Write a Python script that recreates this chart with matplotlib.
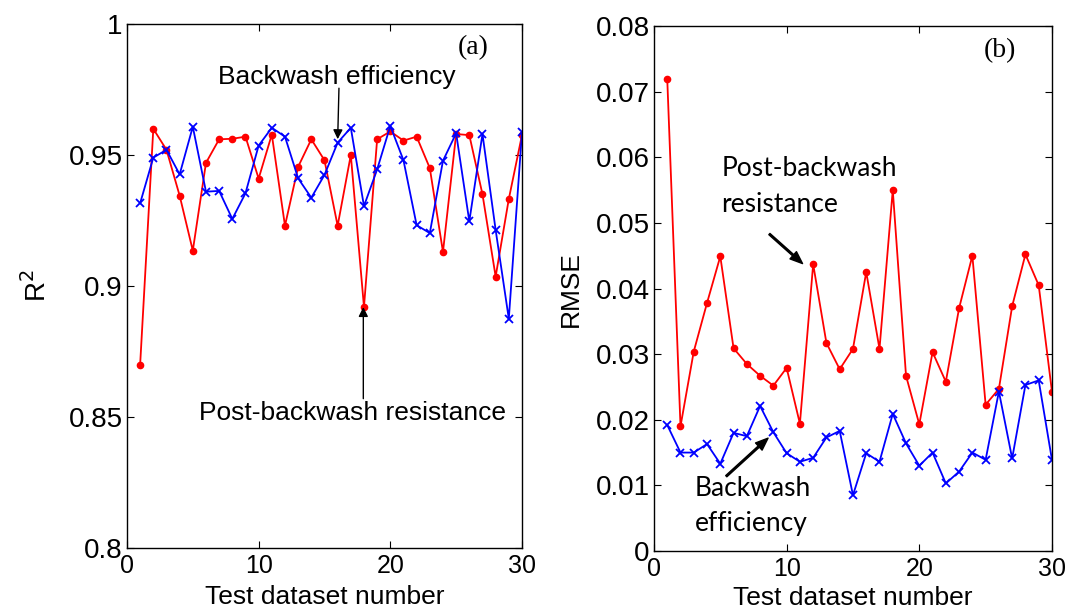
import numpy as np
import matplotlib.pyplot as plt

# test dataset index
dataset = list(range(1, 31))

# panel (a): R^2
r2_resistance = [0.870, 0.960, 0.952, 0.9345, 0.9135, 0.947, 0.956, 0.9562, 0.957, 0.941,
                 0.9578, 0.923, 0.9455, 0.956, 0.948, 0.923, 0.950, 0.892, 0.956, 0.959,
                 0.9555, 0.957, 0.945, 0.913, 0.958, 0.9576, 0.935, 0.9036, 0.9332, 0.9576]
r2_efficiency = [0.9316, 0.949, 0.952, 0.9426, 0.9608, 0.936, 0.9363, 0.9256, 0.9354, 0.9536,
                 0.9604, 0.957, 0.9411, 0.9337, 0.9424, 0.9547, 0.9604, 0.9305, 0.9445, 0.9611,
                 0.948, 0.9232, 0.9202, 0.9478, 0.9583, 0.9247, 0.958, 0.9214, 0.8875, 0.9587]

# panel (b): RMSE
rmse_resistance = [0.0720, 0.0190, 0.0304, 0.0378, 0.0449, 0.0309, 0.0285, 0.0267, 0.0252, 0.0279,
                   0.0194, 0.0437, 0.0317, 0.0277, 0.0308, 0.0425, 0.0308, 0.0550, 0.0267, 0.0193,
                   0.0303, 0.0258, 0.0370, 0.0450, 0.0223, 0.0247, 0.0373, 0.0452, 0.0405, 0.0243]
rmse_efficiency = [0.0192, 0.0150, 0.0150, 0.0163, 0.0133, 0.0180, 0.0175, 0.0221, 0.0181, 0.0149,
                   0.0136, 0.0142, 0.0173, 0.0183, 0.0085, 0.0149, 0.0136, 0.0209, 0.0164, 0.0130,
                   0.0150, 0.0103, 0.0121, 0.0150, 0.0139, 0.0243, 0.0141, 0.0253, 0.0260, 0.0139]

xticks = [0, 10, 20, 30]
r2_ticks = [0.8, 0.85, 0.9, 0.95, 1.0]
r2_ticklabels = ['0.8', '0.85', '0.9', '0.95', '1']
rmse_ticks = [0, 0.01, 0.02, 0.03, 0.04, 0.05, 0.06, 0.07, 0.08]
rmse_ticklabels = ['0', '0.01', '0.02', '0.03', '0.04', '0.05', '0.06', '0.07', '0.08']

plt.rcParams['font.family'] = ['Liberation Sans', 'DejaVu Sans']

fig = plt.figure(figsize=(10.67, 6.11), dpi=100)
ax1 = fig.add_axes([0.119, 0.1031, 0.3702, 0.8576])
ax2 = fig.add_axes([0.6129, 0.0982, 0.373, 0.8592])

arrow_b = dict(arrowstyle='simple,head_length=0.9,head_width=0.7,tail_width=0.12',
               color='black', shrinkA=0, shrinkB=0)
arrow_a = dict(arrowstyle='-|>', color='black', lw=1.0, mutation_scale=14,
               shrinkA=0, shrinkB=1)


def style_axis(ax):
    ax.set_xlim(0, 30)
    ax.set_xticks(xticks)
    ax.set_xticklabels([str(t) for t in xticks], fontsize=18)
    ax.tick_params(direction='in', length=5, width=0.8, top=True, right=True, pad=4)
    ax.tick_params(axis='y', labelsize=20, pad=3)
    for s in ax.spines.values():
        s.set_linewidth(1.0)


# (a)
ax1.plot(dataset, r2_resistance, '-o', color='red', lw=1.3, ms=4.5)
ax1.plot(dataset, r2_efficiency, '-x', color='blue', lw=1.3, ms=6, mew=1.3)
ax1.set_ylim(0.8, 1.0)
ax1.set_yticks(r2_ticks)
ax1.set_yticklabels(r2_ticklabels)
style_axis(ax1)
ax1.set_ylabel('R$^2$', fontsize=20, labelpad=12)
ax1.set_xlabel('Test dataset number', fontsize=19, labelpad=5)
ax1.text(26.3, 0.991, '(a)', fontfamily='Liberation Serif', fontsize=20, ha='center', va='center')
ax1.text(15.9, 0.9798, 'Backwash efficiency', fontsize=19, ha='center', va='center')
ax1.annotate('', xy=(16, 0.9555), xytext=(16.1, 0.9755), arrowprops=arrow_a)
ax1.text(17.16, 0.8515, 'Post-backwash resistance', fontsize=19, ha='center', va='center')
ax1.annotate('', xy=(17.95, 0.8925), xytext=(17.95, 0.857), arrowprops=arrow_a)

# (b)
ax2.plot(dataset, rmse_resistance, '-o', color='red', lw=1.3, ms=4.5)
ax2.plot(dataset, rmse_efficiency, '-x', color='blue', lw=1.3, ms=6, mew=1.3)
ax2.set_ylim(0, 0.08)
ax2.set_yticks(rmse_ticks)
ax2.set_yticklabels(rmse_ticklabels)
style_axis(ax2)
ax2.set_ylabel('RMSE', fontsize=19, labelpad=9)
ax2.set_xlabel('Test dataset number', fontsize=19, labelpad=4)
ax2.text(26.1, 0.0763, '(b)', fontfamily='Liberation Serif', fontsize=20, ha='center', va='center')
ax2.text(5.1, 0.0555, 'Post-backwash\nresistance', fontfamily='Lato', fontsize=19,
         ha='left', va='center', linespacing=1.55)
ax2.annotate('', xy=(11.2, 0.0438), xytext=(8.7, 0.0483), arrowprops=arrow_b)
ax2.text(3.1, 0.0068, 'Backwash\nefficiency', fontfamily='Lato', fontsize=19,
         ha='left', va='center', linespacing=1.5)
ax2.annotate('', xy=(8.6, 0.0172), xytext=(5.45, 0.0114), arrowprops=arrow_b)

fig.savefig('out.png', dpi=100)
